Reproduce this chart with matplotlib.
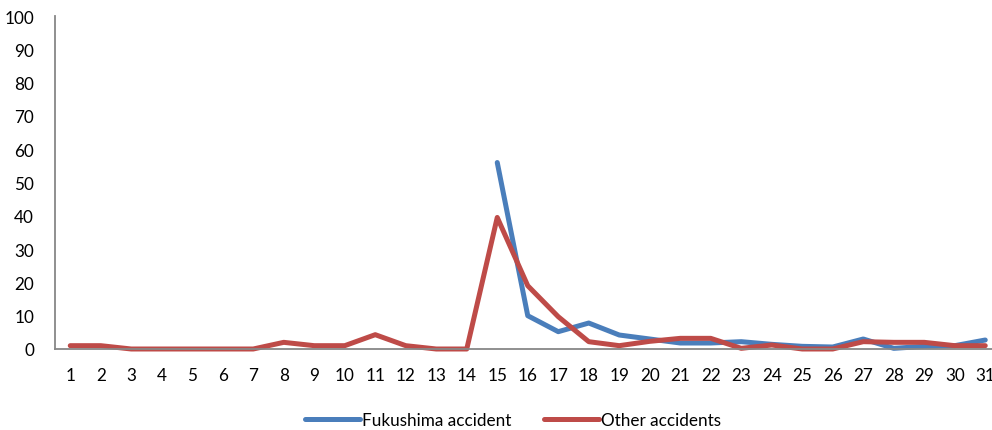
import matplotlib
matplotlib.use("Agg")
import matplotlib.pyplot as plt
import numpy as np

plt.rcParams['font.family'] = ['Lato', 'DejaVu Sans']

days = list(range(1, 32))
fukushima_days = list(range(15, 32))
fukushima = [56, 10, 5.2, 7.8, 4.2, 3, 1.8, 1.8, 2.2, 1.4, 0.8, 0.6, 3, 0.2, 0.8, 1, 2.7]
other = [1, 1, 0, 0, 0, 0, 0, 2, 1, 1, 4.3, 1, 0, 0, 39.5, 19, 9.7, 2.2, 1, 2.3, 3.2, 3.2,
         0.2, 1.2, 0, 0, 2.2, 2, 2, 1, 1]
yticks = list(range(0, 101, 10))

fig = plt.figure(figsize=(9.92, 4.31), dpi=100)
ax = fig.add_axes([55/992, 81/431, 945.5/992, 333/431])

ax.plot(fukushima_days, fukushima, color='#4A7EBB', lw=3.6, label='Fukushima accident',
        solid_capstyle='round', solid_joinstyle='round', clip_on=False)
ax.plot(days, other, color='#BE4B48', lw=3.6, label='Other accidents',
        solid_capstyle='round', solid_joinstyle='round', clip_on=False)

ax.set_xlim(0.5, 31.5)
ax.set_ylim(0, 100)
ax.set_xticks(days)
ax.set_xticklabels([str(d) for d in days])
ax.set_yticks(yticks)
for s in ['top', 'right']:
    ax.spines[s].set_visible(False)
for s in ['left', 'bottom']:
    ax.spines[s].set_color('#878787')
    ax.spines[s].set_linewidth(1.3)
ax.tick_params(axis='x', length=0, pad=13, labelsize=12.3)
ax.tick_params(axis='y', length=0, pad=15, labelsize=12.3)

leg = fig.legend(loc='center', bbox_to_anchor=(513/992, 1 - 421/431), ncol=2, frameon=False,
                 fontsize=12.3, handlelength=3.2, handletextpad=0.12, columnspacing=1.9)

fig.savefig('out.png', dpi=100)
